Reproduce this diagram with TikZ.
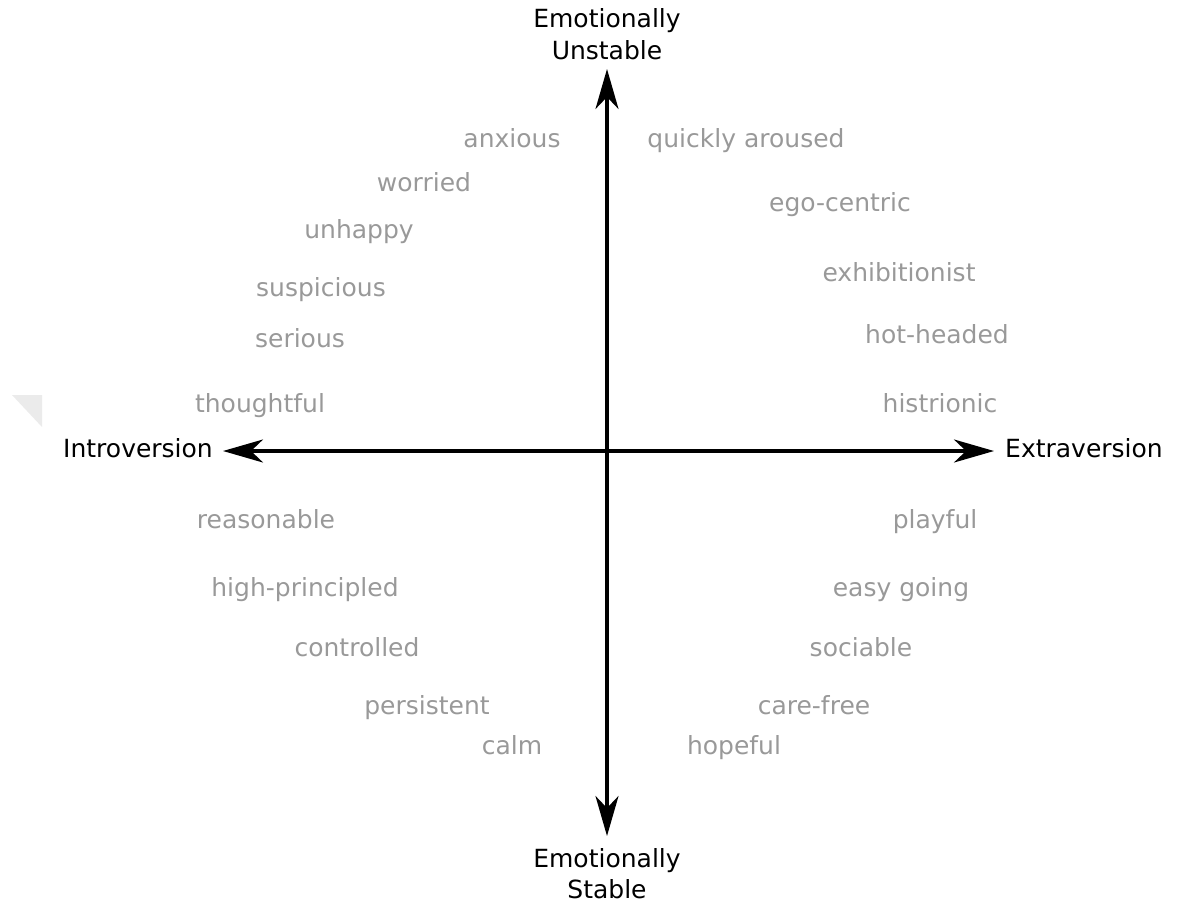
\documentclass[tikz,border=0pt]{standalone}
\usepackage{fontspec}
\setmainfont{DejaVu Sans}
\usetikzlibrary{arrows.meta}
\definecolor{wordgray}{HTML}{999999}
\definecolor{ghost}{HTML}{EBEBEB}
\begin{document}
\begin{tikzpicture}[x=1pt,y=-1pt,
  trait/.style={text=wordgray,font=\fontsize{25}{29}\selectfont,anchor=base,inner sep=0pt},
  pole/.style={text=black,font=\fontsize{25}{29}\selectfont,anchor=base,inner sep=0pt},
  axis/.style={line width=3.2pt,{Stealth[length=40pt,width=23pt,inset=12pt]}-{Stealth[length=40pt,width=23pt,inset=12pt]}}]
\useasboundingbox (0,0) rectangle (1177,905);
\fill[ghost] (12,395) -- (42,395) -- (42,427) -- cycle;
\coordinate (T) at (607,69);
\coordinate (B) at (607,836);
\coordinate (L) at (223,451);
\coordinate (R) at (994,451);
\draw[axis] (B) -- (T);
\draw[axis] (L) -- (R);
\node[pole] (eu1) at (607,27) {Emotionally};
\node[pole] (eu2) at (607,59) {Unstable};
\node[pole] (es1) at (607,867) {Emotionally};
\node[pole] (es2) at (607,898) {Stable};
\node[pole] (intro) at (138,457) {Introversion};
\node[pole] (extra) at (1084,457) {Extraversion};
\node[trait] (w1) at (512,147) {anxious};
\node[trait] (w2) at (746,147) {quickly aroused};
\node[trait] (w3) at (424,191) {worried};
\node[trait] (w4) at (840,211) {ego-centric};
\node[trait] (w5) at (359,238) {unhappy};
\node[trait] (w6) at (899,281) {exhibitionist};
\node[trait] (w7) at (321,296) {suspicious};
\node[trait] (w8) at (937,343) {hot-headed};
\node[trait] (w9) at (300,347) {serious};
\node[trait] (w10) at (260,412) {thoughtful};
\node[trait] (w11) at (940,412) {histrionic};
\node[trait] (w12) at (266,528) {reasonable};
\node[trait] (w13) at (935,528) {playful};
\node[trait] (w14) at (305,596) {high-principled};
\node[trait] (w15) at (901,596) {easy going};
\node[trait] (w16) at (357,656) {controlled};
\node[trait] (w17) at (861,656) {sociable};
\node[trait] (w18) at (427,714) {persistent};
\node[trait] (w19) at (814,714) {care-free};
\node[trait] (w20) at (512,754) {calm};
\node[trait] (w21) at (734,754) {hopeful};
\end{tikzpicture}
\end{document}
